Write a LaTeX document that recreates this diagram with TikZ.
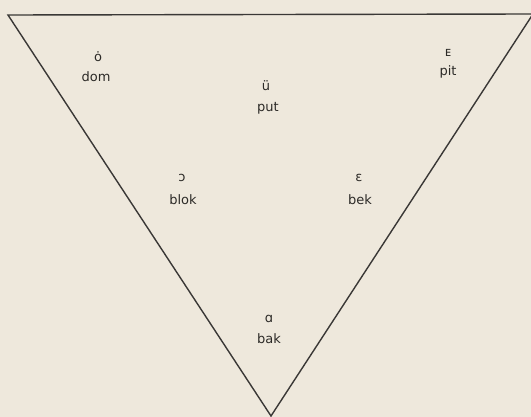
\documentclass[tikz,border=0pt]{standalone}
\usepackage{fontspec}
\setmainfont{DejaVu Sans}
\definecolor{paper}{HTML}{EEE8DC}
\definecolor{ink}{HTML}{3A3836}
\definecolor{textink}{HTML}{2C2A27}
\tikzset{
  lbl/.style={inner sep=0pt, text=textink, font=\fontsize{13}{15}\selectfont},
  edge/.style={draw=ink, line width=1.4pt, line join=miter}
}
\begin{document}
\begin{tikzpicture}[x=1pt,y=-1pt]
\fill[paper] (0,0) rectangle (531,417);
\useasboundingbox (0,0) rectangle (531,417);
\coordinate (tl) at (8,15);
\coordinate (tr) at (533,14);
\coordinate (bt) at (271,416);
\draw[edge] (tl) -- (tr) -- (bt) -- cycle;
\node[lbl] (s1) at (98,57) {ȯ};
\node[lbl] (w1) at (96,77) {dom};
\node[lbl] (s2) at (266,86) {ü};
\node[lbl] (w2) at (268,108) {put};
\node[lbl] (s3) at (448,53) {ᴇ};
\node[lbl] (w3) at (448,72) {pit};
\node[lbl] (s4) at (182,178) {ɔ};
\node[lbl] (w4) at (183,200) {blok};
\node[lbl] (s5) at (359,178) {ɛ};
\node[lbl] (w5) at (360,200) {bek};
\node[lbl] (s6) at (269,319) {ɑ};
\node[lbl] (w6) at (269,339) {bak};
\end{tikzpicture}
\end{document}
